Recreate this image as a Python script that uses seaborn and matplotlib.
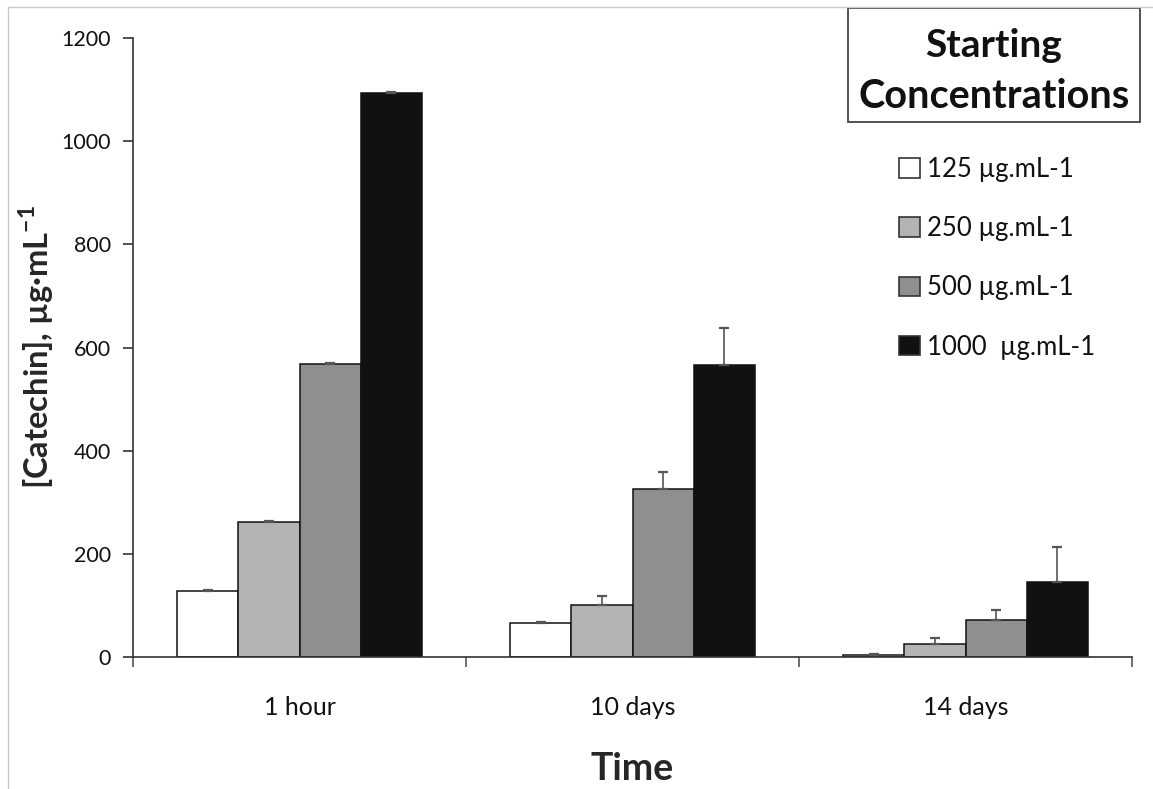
import numpy as np
import pandas as pd
import matplotlib
matplotlib.use("Agg")
import matplotlib.pyplot as plt
import seaborn as sns
from matplotlib.patches import Patch, Rectangle
from matplotlib.lines import Line2D

# Catechin remaining in solution over time, per starting concentration
times = ["1 hour", "10 days", "14 days"]
concentrations = ["125 µg.mL-1", "250 µg.mL-1", "500 µg.mL-1", "1000  µg.mL-1"]
catechin_125 = [128, 65, 3]
catechin_250 = [261, 101, 25]
catechin_500 = [568, 325, 72]
catechin_1000 = [1093, 567, 146]
sd_125 = [2, 2, 2]
sd_250 = [2, 17, 12]
sd_500 = [2, 33, 20]
sd_1000 = [3, 70, 67]
y_ticks = [0, 200, 400, 600, 800, 1000, 1200]
bar_colors = ["#ffffff", "#b3b3b3", "#8f8f8f", "#111111"]

sns.set_theme(style="white")
plt.rcParams["font.family"] = ["Lato", "DejaVu Sans"]
plt.rcParams["mathtext.fontset"] = "custom"
plt.rcParams["mathtext.rm"] = "Lato"
plt.rcParams["mathtext.bf"] = "Lato:bold"
plt.rcParams["text.color"] = "#111111"

series = [catechin_125, catechin_250, catechin_500, catechin_1000]
errors = [sd_125, sd_250, sd_500, sd_1000]
rows = []
for conc, vals, errs in zip(concentrations, series, errors):
    for t, v, e in zip(times, vals, errs):
        rows.append({"time": t, "conc": conc, "value": v, "sd": e})
df = pd.DataFrame(rows)

W, H = 1153, 789
fig = plt.figure(figsize=(W / 100, H / 100), dpi=100)
ax = fig.add_axes([133 / W, (H - 657) / H, (1132 - 133) / W, (657 - 38) / H])

sns.barplot(data=df, x="time", y="value", hue="conc", order=times,
            hue_order=concentrations, palette=bar_colors, saturation=1,
            width=0.733, errorbar=None, edgecolor="#111111", linewidth=1.1,
            legend=False, ax=ax)

# one-sided (upper) standard deviation bars
for container, conc in zip(ax.containers, concentrations):
    sub = df[df["conc"] == conc].set_index("time").loc[times]
    xs = [p.get_x() + p.get_width() / 2 for p in container.patches]
    ys = sub["value"].to_numpy()
    err = sub["sd"].to_numpy()
    ax.errorbar(xs, ys, yerr=[np.zeros_like(err), err], fmt="none",
                ecolor="#555555", elinewidth=1.2, capsize=3.6, capthick=1.6,
                zorder=3)

ax.set_xlim(-0.5, 2.5)
ax.set_ylim(0, 1200)
ax.set_yticks(y_ticks)
ax.set_yticklabels([str(v) for v in y_ticks])
ax.set_xticks([-0.5, 0.5, 1.5, 2.5], minor=True)

for side in ("top", "right"):
    ax.spines[side].set_visible(False)
for side in ("left", "bottom"):
    ax.spines[side].set_color("#333333")
    ax.spines[side].set_linewidth(1.2)

ax.tick_params(axis="y", which="major", left=True, length=7, width=1.2,
               color="#333333", pad=9, labelsize=15.5, labelcolor="#111111")
ax.tick_params(axis="x", which="major", bottom=True, length=0, pad=28,
               labelsize=18, labelcolor="#111111")
ax.tick_params(axis="x", which="minor", bottom=True, length=7, width=1.2,
               color="#555555", direction="out")

ax.set_xlabel("Time", fontsize=27, fontweight="bold", labelpad=24)
ax.set_ylabel(r"[Catechin], µg·mL$^{\mathbf{-1}}$", fontsize=23.5,
              fontweight="bold", labelpad=4)

# legend: boxed title plus colour keys
fig.add_artist(Rectangle((848 / W, 1 - 122 / H), (1140 - 848) / W, (122 - 8) / H,
                         transform=fig.transFigure, fill=False,
                         edgecolor="#444444", linewidth=1.3))
fig.text(994 / W, 1 - 57 / H, "Starting", ha="center", va="baseline",
         fontsize=28, fontweight="bold")
fig.text(994 / W, 1 - 108 / H, "Concentrations", ha="center", va="baseline",
         fontsize=28.5, fontweight="bold")

handles = [Patch(facecolor=c, edgecolor="#333333", linewidth=1.2) for c in bar_colors]
ax.legend(handles, concentrations, loc="upper left",
          bbox_to_anchor=(899 / W, 1 - 157 / H), bbox_transform=fig.transFigure,
          frameon=False, fontsize=18.5, handlelength=0.8, handleheight=0.8,
          handletextpad=0.3, labelspacing=1.33, borderpad=0, borderaxespad=0)

# page edges
fig.add_artist(Line2D([8 / W, 8 / W], [0, 1 - 7 / H], transform=fig.transFigure,
                      color="#c8c8c8", linewidth=1))
fig.add_artist(Line2D([8 / W, 1], [1 - 7 / H, 1 - 7 / H], transform=fig.transFigure,
                      color="#c8c8c8", linewidth=1))

fig.savefig("out.png", dpi=100, facecolor="white")
